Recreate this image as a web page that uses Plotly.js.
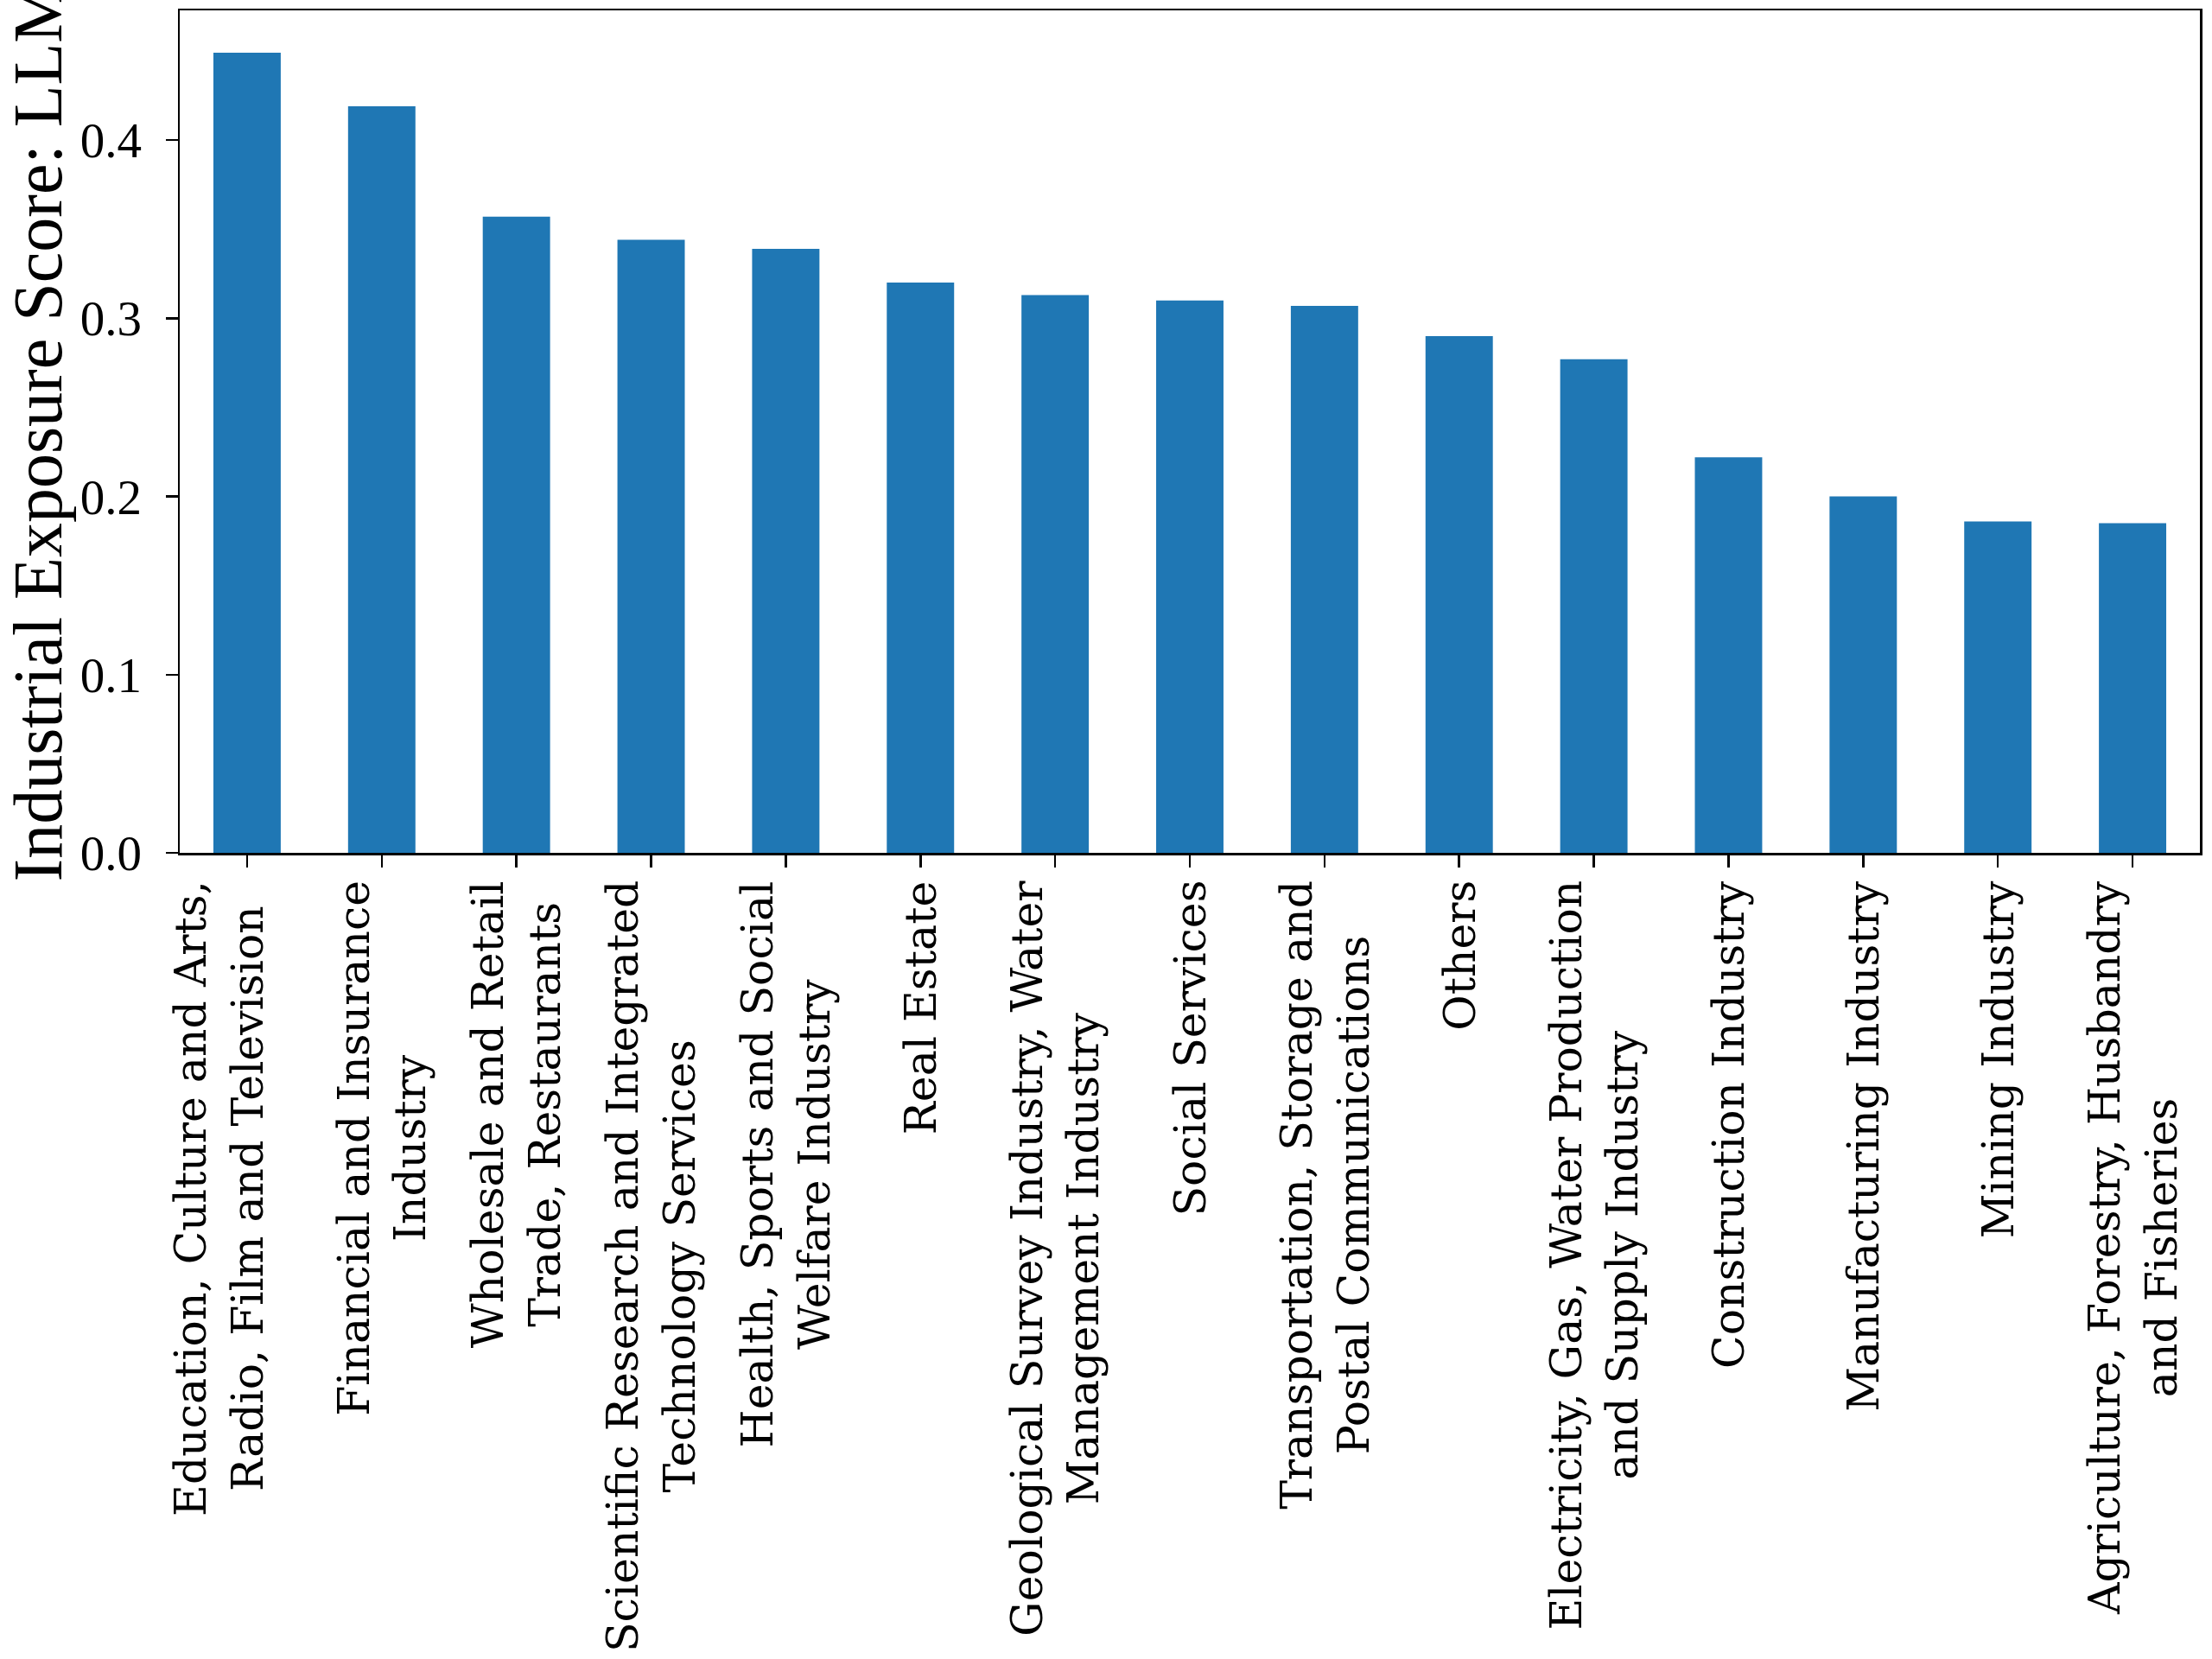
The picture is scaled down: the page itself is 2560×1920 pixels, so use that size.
<!DOCTYPE html>
<html>
<head>
<meta charset="utf-8">
<script src="https://cdn.plot.ly/plotly-3.0.1.min.js"></script>
<style>html,body{margin:0;padding:0;background:#fff;}#chart{width:2560px;height:1920px;}</style>
</head>
<body>
<div id="chart"></div>
<script>
var categories = [
  "Education, Culture and Arts,<br>Radio, Film and Television<br>&nbsp;",
  "Financial and Insurance<br>Industry",
  "Wholesale and Retail<br>Trade, Restaurants",
  "Scientific Research and Integrated<br>Technology Services",
  "Health, Sports and Social<br>Welfare Industry",
  "Real Estate",
  "Geological Survey Industry, Water<br>Management Industry",
  "Social Services",
  "Transportation, Storage and<br>Postal Communications",
  "Others",
  "Electricity, Gas, Water Production<br>and Supply Industry",
  "Construction Industry",
  "Manufacturing Industry",
  "Mining Industry",
  "Agriculture, Forestry, Husbandry<br>and Fisheries"
];
var scores = [0.449, 0.419, 0.357, 0.344, 0.339, 0.320, 0.313, 0.310, 0.307, 0.290, 0.277, 0.222, 0.200, 0.186, 0.185];
var yTickVals = [0.0, 0.1, 0.2, 0.3, 0.4];
var yTickText = ["0.0", "0.1", "0.2", "0.3", "0.4"];
var yTitle = "Industrial Exposure Score: LLM";

var idx = categories.map(function(_, i){ return i; });

var trace = {
  type: 'bar',
  x: idx,
  y: scores,
  width: 0.5,
  marker: {color: '#1f77b4', line: {width: 0}},
  hoverinfo: 'skip'
};

var annotations = categories.map(function(c, i){
  return {
    x: i, xref: 'x', y: 0, yref: 'paper',
    yanchor: 'top', xanchor: 'center', yshift: -30,
    text: c, textangle: -90, align: 'center', showarrow: false,
    font: {family: 'DejaVu Serif', size: 50.5, color: '#000'}
  };
});

var layout = {
  width: 2560, height: 1920,
  paper_bgcolor: '#fff', plot_bgcolor: '#fff',
  margin: {l: 208, r: 14, t: 12, b: 933},
  showlegend: false,
  xaxis: {
    type: 'linear',
    range: [-0.5, 14.5],
    tickvals: idx,
    showticklabels: false,
    ticks: 'outside', ticklen: 14, tickwidth: 2.5, tickcolor: '#000',
    showline: true, linecolor: '#000', linewidth: 2.5, mirror: true,
    showgrid: false, zeroline: false
  },
  yaxis: {
    range: [0, 0.4728],
    tickvals: yTickVals, ticktext: yTickText,
    ticks: 'outside', ticklen: 14, tickwidth: 2.5, tickcolor: '#000',
    ticklabelstandoff: 16,
    tickfont: {family: 'Liberation Serif', size: 57, color: '#000'},
    showline: true, linecolor: '#000', linewidth: 2.5, mirror: true,
    showgrid: false, zeroline: false,
    title: {text: yTitle, font: {family: 'Liberation Serif', size: 80, color: '#000'}, standoff: 20}
  },
  annotations: annotations
};

Plotly.newPlot('chart', [trace], layout, {staticPlot: true, displayModeBar: false});
</script>
</body>
</html>
